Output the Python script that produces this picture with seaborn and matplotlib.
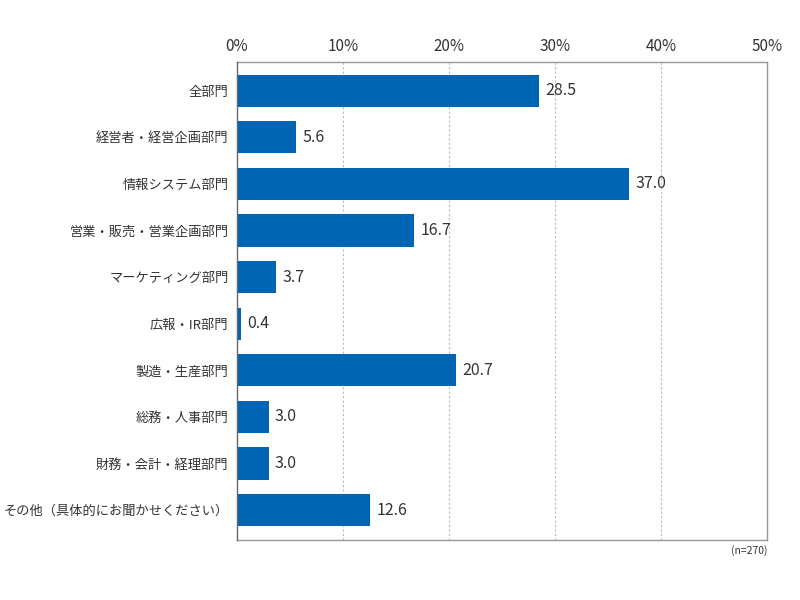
import matplotlib
matplotlib.use("Agg")
import matplotlib.pyplot as plt
import seaborn as sns
import pandas as pd

categories = ["全部門", "経営者・経営企画部門", "情報システム部門", "営業・販売・営業企画部門",
              "マーケティング部門", "広報・IR部門", "製造・生産部門", "総務・人事部門",
              "財務・会計・経理部門", "その他（具体的にお聞かせください）"]
values = [28.5, 5.6, 37.0, 16.7, 3.7, 0.4, 20.7, 3.0, 3.0, 12.6]
tick_labels = ["0%", "10%", "20%", "30%", "40%", "50%"]
tick_values = [0, 10, 20, 30, 40, 50]
note = "(n=270)"

sns.set_style("white")
plt.rcParams['font.family'] = ['Noto Sans CJK JP', 'DejaVu Sans']

df = pd.DataFrame({"cat": categories, "val": values})
fig = plt.figure(figsize=(8, 6), dpi=100)
ax = fig.add_axes([0.296, 0.1, 0.663, 0.797])
sns.barplot(data=df, x="val", y="cat", color="#0066b3", saturation=1, width=0.69,
            linewidth=0, ax=ax, zorder=3)
ax.set_xlim(0, 50)
ax.set_ylim(9.64, -0.62)
ax.set_xticks(tick_values)
ax.set_xticklabels(tick_labels, fontsize=11, color="#333333")
ax.xaxis.tick_top()
ax.tick_params(axis="x", length=0, pad=5)
ax.tick_params(axis="y", length=0, pad=6, labelsize=9.5, labelcolor="#333333")
ax.set_xlabel("")
ax.set_ylabel("")
for x in tick_values[1:-1]:
    ax.axvline(x, color="#bbbbbb", linestyle=(0, (2, 2)), linewidth=0.8, zorder=1)
for s in ["top", "right", "bottom"]:
    ax.spines[s].set_color("#999999")
    ax.spines[s].set_linewidth(1)
ax.spines["left"].set_color("#666666")
ax.spines["left"].set_linewidth(1)
ax.spines["left"].set_zorder(5)
for i, v in enumerate(values):
    ax.text(v + 0.6, i, f"{v:.1f}", va="center", ha="left", fontsize=11.5, color="#333333")
fig.text(0.96, 0.082, note, ha="right", va="center", fontsize=7.5, color="#333333")
fig.savefig("out.png", dpi=100)
